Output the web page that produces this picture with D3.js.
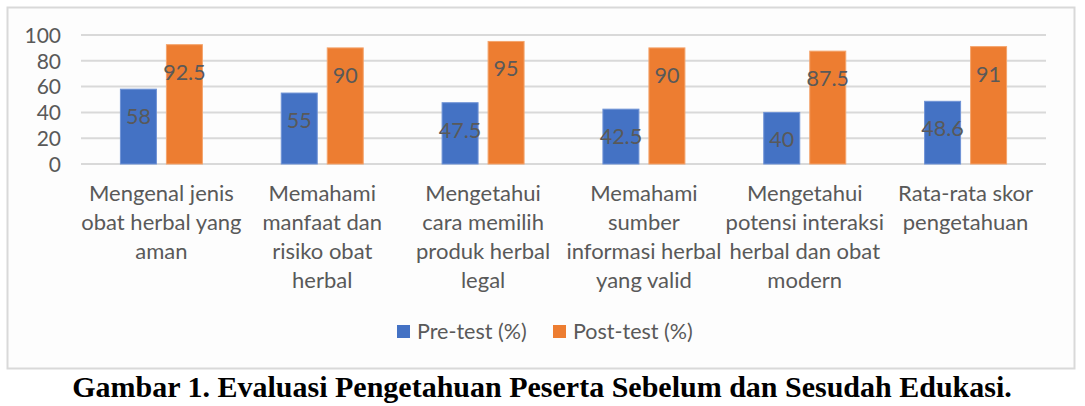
<!DOCTYPE html>
<html>
<head>
<meta charset="utf-8">
<script src="https://cdn.jsdelivr.net/npm/d3@7"></script>
<style>
body { margin:0; background:#fff; }
svg { display:block; }
text { font-family: Lato, "Open Sans", sans-serif; }
.tick text, .cat, .lab, .leg { fill:#595959; }
</style>
</head>
<body>
<svg width="1085" height="406"></svg>
<script>
// data
const categories = [
	"Mengenal jenis|obat herbal yang|aman",
	"Memahami|manfaat dan|risiko obat|herbal",
	"Mengetahui|cara memilih|produk herbal|legal",
	"Memahami|sumber|informasi herbal|yang valid",
	"Mengetahui|potensi interaksi|herbal dan obat|modern",
	"Rata-rata skor|pengetahuan"
]
const preTest = [58, 55, 47.5, 42.5, 40, 48.6]
const postTest = [92.5, 90, 95, 90, 87.5, 91]
const yTicks = [0, 20, 40, 60, 80, 100]
const seriesNames = ["Pre-test (%)", "Post-test (%)"]
const colors = ["#4472c4", "#ed7d31"]
const title = "Gambar 1. Evaluasi Pengetahuan Peserta Sebelum dan Sesudah Edukasi."

const svg = d3.select("svg")

//frame
svg.append("rect")
	.attr("x", 7.5).attr("y", 7.5)
	.attr("width", 1067).attr("height", 361)
	.attr("fill", "#fdfdfd")
	.attr("stroke", "#d9d9d9")
	.attr("stroke-width", 2)

//scales
const x = d3.scaleBand()
	.domain(d3.range(categories.length))
	.range([81, 1046])

const y = d3.scaleLinear()
	.domain([0, 100])
	.range([164, 35])

const barW = 36, gap = 10

//gridlines
svg.append("g")
	.selectAll("line")
	.data(yTicks)
	.enter()
	.append("line")
	.attr("x1", 81).attr("x2", 1046)
	.attr("y1", d => y(d)).attr("y2", d => y(d))
	.attr("stroke", "#d9d9d9")
	.attr("stroke-width", 2)

//y axis labels
const yAxis = svg.append("g")
	.attr("transform", "translate(61,0)")
	.call(d3.axisLeft(y).tickValues(yTicks).tickSize(0).tickPadding(0))
yAxis.select(".domain").remove()
yAxis.selectAll("text")
	.style("font-size", "21px")
	.style("font-family", "Lato, sans-serif")
	.attr("dy", "0.35em")

//bars
const series = [preTest, postTest]
series.forEach((vals, s) => {
	const g = svg.append("g")
	const xOff = (i) => x(i) + x.bandwidth()/2 + (s == 0 ? -gap/2 - barW : gap/2)
	g.selectAll("rect")
		.data(vals)
		.enter()
		.append("rect")
		.attr("x", (d,i) => xOff(i))
		.attr("y", d => y(d))
		.attr("width", barW)
		.attr("height", d => y(0) - y(d))
		.attr("fill", colors[s])
		.attr("stroke", s == 0 ? "#6f93d6" : "#f4a46d")
		.attr("stroke-width", 1)
	g.selectAll("text")
		.data(vals)
		.enter()
		.append("text")
		.attr("class", "lab")
		.attr("x", (d,i) => xOff(i) + barW/2)
		.attr("y", d => y(d) + 35)
		.attr("text-anchor", "middle")
		.style("font-size", "21.5px")
		.text(d => d)
})

//category labels
const cats = svg.append("g")
	.selectAll("text")
	.data(categories)
	.enter()
	.append("text")
	.attr("class", "cat")
	.attr("text-anchor", "middle")
	.style("font-size", "22px")
	.attr("transform", (d,i) => `translate(${x(i) + x.bandwidth()/2},201)`)

cats.selectAll("tspan")
	.data(d => d.split("|"))
	.enter()
	.append("tspan")
	.attr("x", 0)
	.attr("y", (d,i) => i*29)
	.text(d => d)

//legend
const legX = [397, 553]
seriesNames.forEach((n, i) => {
	svg.append("rect")
		.attr("x", legX[i]).attr("y", 325)
		.attr("width", 13).attr("height", 13)
		.attr("fill", colors[i])
	svg.append("text")
		.attr("class", "leg")
		.attr("x", legX[i] + 20).attr("y", 339)
		.style("font-size", "21.5px")
		.text(n)
})

//title
svg.append("text")
	.attr("x", 542).attr("y", 397)
	.attr("text-anchor", "middle")
	.style("font-family", "'Liberation Serif', serif")
	.style("font-weight", "bold")
	.style("font-size", "30px")
	.attr("fill", "#000")
	.text(title)
</script>
</body>
</html>
